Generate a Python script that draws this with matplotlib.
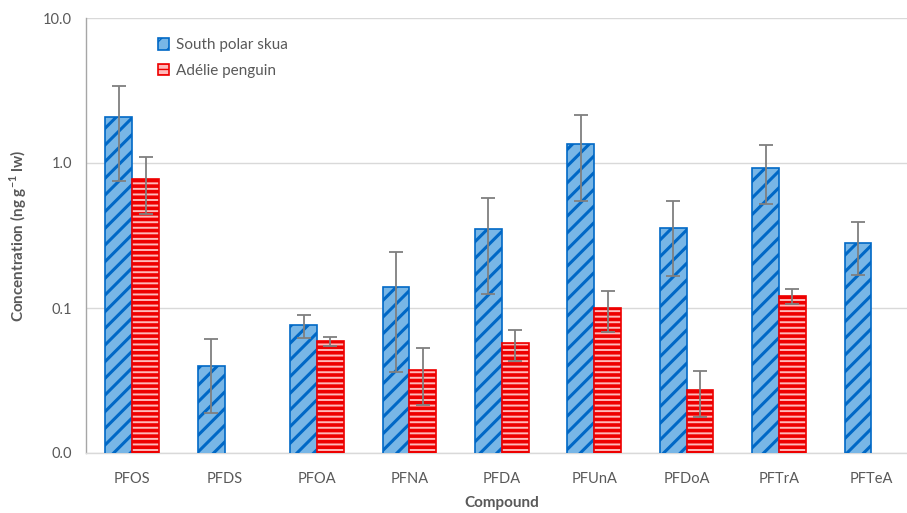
import numpy as np
import matplotlib
matplotlib.use("Agg")
import matplotlib.pyplot as plt
from matplotlib.ticker import FixedLocator, FixedFormatter, NullLocator

plt.rcParams['font.family'] = ['Lato', 'DejaVu Sans']

compounds = ["PFOS", "PFDS", "PFOA", "PFNA", "PFDA", "PFUnA", "PFDoA", "PFTrA", "PFTeA"]

skua_mean = [2.08, 0.040, 0.076, 0.140, 0.350, 1.35, 0.356, 0.924, 0.281]
skua_err = [1.33, 0.021, 0.014, 0.104, 0.225, 0.80, 0.190, 0.400, 0.112]

penguin_mean = [0.776, np.nan, 0.059, 0.0373, 0.057, 0.100, 0.0272, 0.121, np.nan]
penguin_err = [0.33, np.nan, 0.0045, 0.016, 0.014, 0.032, 0.0095, 0.015, np.nan]

y_ticks = [0.01, 0.1, 1.0, 10.0]
y_tick_labels = ["0.0", "0.1", "1.0", "10.0"]

text_grey = "#595959"

fig = plt.figure(figsize=(9.07, 5.13), dpi=100)
ax = fig.add_axes([86 / 907, 60 / 513, 831.6 / 907, 435 / 513])

x = np.arange(len(compounds))
w = 0.29

err_kw = dict(ecolor="#7f7f7f", elinewidth=1.3, capsize=5, capthick=1.3)

with plt.rc_context({'hatch.linewidth': 2.2}):
    b1 = ax.bar(x - w / 2, skua_mean, w, yerr=skua_err, color="#78b6e6",
                edgecolor="#0068c6", linewidth=1.2, hatch="//",
                label="South polar skua", error_kw=err_kw, zorder=3)
with plt.rc_context({'hatch.linewidth': 2.6}):
    b2 = ax.bar(x + w / 2, penguin_mean, w, yerr=penguin_err, color="#ffb9b9",
                edgecolor="#ee0000", linewidth=1.2, hatch="---",
                label="Adélie penguin", error_kw=err_kw, zorder=3)

ax.set_yscale("log")
ax.set_ylim(0.01, 10.0)
ax.set_xlim(-0.5, len(compounds) - 0.5)
ax.yaxis.set_major_locator(FixedLocator(y_ticks))
ax.yaxis.set_major_formatter(FixedFormatter(y_tick_labels))
ax.yaxis.set_minor_locator(NullLocator())
ax.set_xticks(x)
ax.set_xticklabels(compounds)
ax.tick_params(axis="both", length=0, colors=text_grey, labelsize=10.5)
ax.tick_params(axis="x", pad=14)
ax.tick_params(axis="y", pad=10)

ax.grid(axis="y", color="#d9d9d9", linewidth=1.0, zorder=0)
ax.set_axisbelow(True)
for s in ("top", "right"):
    ax.spines[s].set_visible(False)
ax.spines["left"].set_color("#a6a6a6")
ax.spines["left"].set_linewidth(1.0)
ax.spines["bottom"].set_color("#d9d9d9")
ax.spines["bottom"].set_linewidth(1.0)

ax.set_xlabel("Compound", fontsize=11, fontweight="bold", color=text_grey, labelpad=7)
ax.set_ylabel("Concentration (ng g$^{\\mathregular{-1}}$ lw)", fontsize=11,
              fontweight="bold", color=text_grey, labelpad=10)

leg = ax.legend(loc="upper left", bbox_to_anchor=(0.07, 0.985), frameon=False,
                fontsize=11, handlelength=0.75, handleheight=0.75,
                handletextpad=0.4, labelspacing=0.75)
for t in leg.get_texts():
    t.set_color(text_grey)

fig.savefig("out.png", dpi=100)
